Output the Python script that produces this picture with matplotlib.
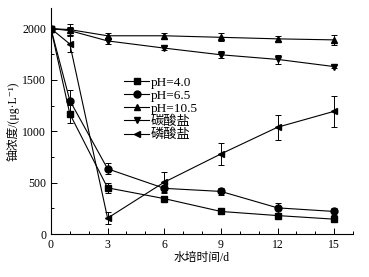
import matplotlib
matplotlib.use("Agg")
import matplotlib.pyplot as plt
from matplotlib.ticker import MultipleLocator

plt.rcParams['font.family'] = ['Liberation Serif', 'Noto Sans CJK SC', 'DejaVu Sans']

days = [0, 1, 3, 6, 9, 12, 15]

ph40 = [2000, 1170, 450, 345, 220, 180, 145]
ph40_err = [0, 90, 50, 30, 25, 25, 15]
ph65 = [2000, 1300, 635, 445, 415, 255, 220]
ph65_err = [0, 100, 55, 50, 35, 50, 35]
ph105 = [2000, 1990, 1930, 1930, 1915, 1900, 1890]
ph105_err = [0, 50, 30, 30, 40, 25, 45]
carbonate = [2000, 1980, 1880, 1810, 1745, 1700, 1630]
carbonate_err = [0, 40, 30, 20, 35, 40, 15]
phosphate = [2000, 1850, 155, 505, 780, 1040, 1195]
phosphate_err = [0, 80, 60, 100, 110, 120, 150]

labels = ['pH=4.0', 'pH=6.5', 'pH=10.5', '碳酸盐', '磷酸盐']
markers = ['s', 'o', '^', 'v', '<']
series = [ph40, ph65, ph105, carbonate, phosphate]
errors = [ph40_err, ph65_err, ph105_err, carbonate_err, phosphate_err]

fig = plt.figure(figsize=(3.69, 2.77), dpi=100)
ax = fig.add_axes([0.138, 0.155, 0.819, 0.816])

for vals, err, m, lab in zip(series, errors, markers, labels):
    ax.errorbar(days, vals, yerr=err, fmt='none', ecolor='black',
                elinewidth=0.7, capsize=2.5, capthick=0.7)
    ax.plot(days, vals, marker=m, markersize=5, color='black', lw=0.8, label=lab)

ax.set_xlim(0, 16)
ax.set_ylim(0, 2200)
ax.xaxis.set_major_locator(MultipleLocator(3))
ax.xaxis.set_minor_locator(MultipleLocator(1))
ax.yaxis.set_major_locator(MultipleLocator(500))
ax.yaxis.set_minor_locator(MultipleLocator(250))
ax.tick_params(which='both', direction='in', labelsize=8.5, width=0.7)
ax.tick_params(which='major', length=4)
ax.tick_params(which='minor', length=2)
ax.spines['top'].set_visible(False)
ax.spines['right'].set_visible(False)
for s in ['left', 'bottom']:
    ax.spines[s].set_linewidth(0.8)

ax.set_xlabel('水培时间/d', fontsize=8.5, labelpad=1)
ax.set_ylabel('铀浓度/(μg·L⁻¹)', fontsize=8.5, labelpad=2)

ax.legend(loc='upper left', bbox_to_anchor=(0.22, 0.725), frameon=False, fontsize=9.5,
          handlelength=1.9, labelspacing=0.05, handletextpad=0.15, borderpad=0)

fig.savefig('out.png', dpi=100)
